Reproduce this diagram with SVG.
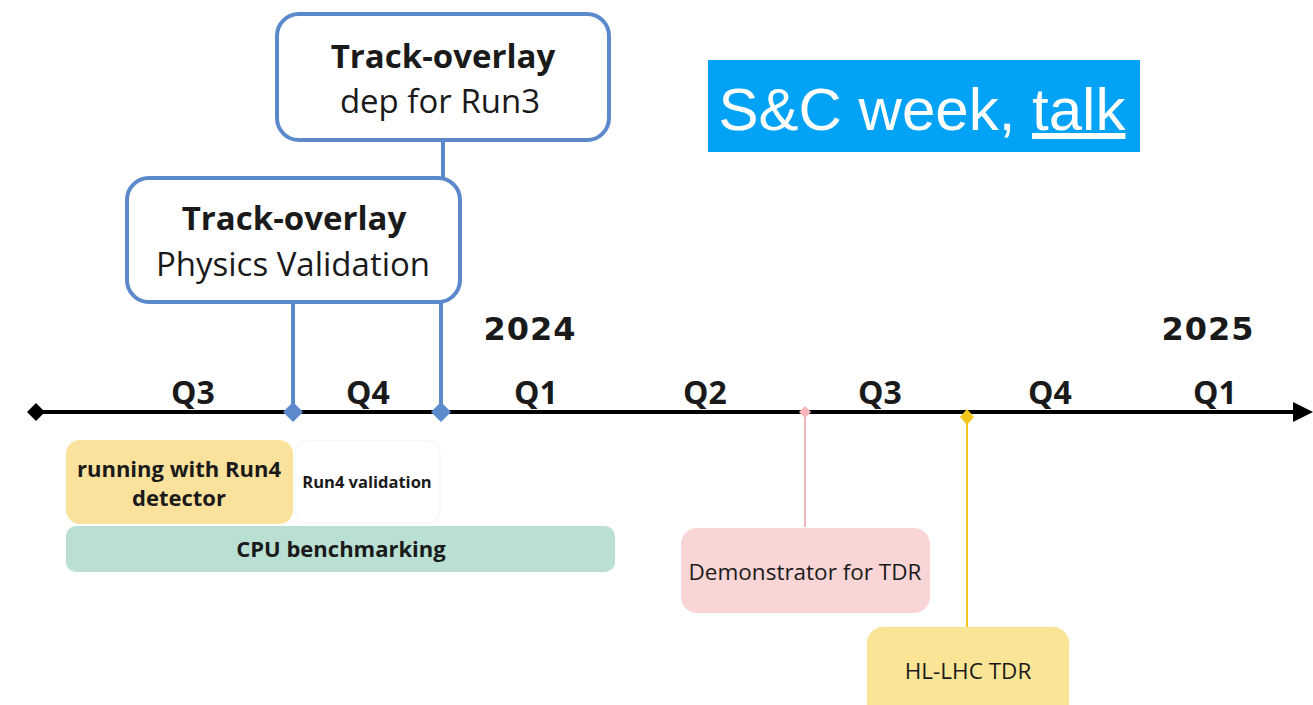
<svg xmlns="http://www.w3.org/2000/svg" width="1313" height="705" viewBox="0 0 1313 705">
  <defs>
    <style>
      .ttl { font-family: "Open Sans", "Noto Sans", sans-serif; font-weight: 700; fill: #1a1a1a; text-anchor: middle; }
      .sub { font-family: "Open Sans", "Noto Sans", sans-serif; font-weight: 400; fill: #1a1a1a; text-anchor: middle; }
      .q { font-family: "Open Sans", "Noto Sans", sans-serif; font-weight: 700; font-size: 32px; fill: #1a1a1a; text-anchor: middle; }
      .yr { font-family: "DejaVu Sans", sans-serif; font-weight: 700; font-size: 32px; letter-spacing: 1px; fill: #1a1a1a; text-anchor: middle; }
      .mbox { fill: #ffffff; stroke: #5c88cc; stroke-width: 4; }
      .link { stroke: #5c88cc; stroke-width: 4; fill: none; }
    </style>
  </defs>

  <rect width="1313" height="705" fill="#ffffff"/>

  <!-- connectors -->
  <g id="connectors">
    <line class="link" x1="443" y1="140" x2="443" y2="178"/>
    <line class="link" x1="293" y1="302" x2="293" y2="412"/>
    <line class="link" x1="441" y1="302" x2="441" y2="412"/>
    <line x1="805" y1="412" x2="805" y2="527" stroke="#f5b5b9" stroke-width="2"/>
    <line x1="967" y1="417" x2="967" y2="627" stroke="#f4c61c" stroke-width="2"/>
  </g>

  <!-- time axis -->
  <g id="axis">
    <line x1="36" y1="412" x2="1300" y2="412" stroke="#000" stroke-width="4"/>
    <path d="M1293,402 L1313,412 L1293,422 Z" fill="#000"/>
    <path d="M36,403 L45,412 L36,421 L27,412 Z" fill="#000"/>
    <path d="M293,402 L303,412 L293,422 L283,412 Z" fill="#5c88cc"/>
    <path d="M441,402 L451,412 L441,422 L431,412 Z" fill="#5c88cc"/>
    <path d="M805,406 L811,412 L805,418 L799,412 Z" fill="#f5b5b9"/>
    <path d="M967,409 L974,417 L967,425 L960,417 Z" fill="#f4c61c"/>
    <text class="q" x="193" y="404">Q3</text>
    <text class="q" x="368" y="404">Q4</text>
    <text class="q" x="536" y="404">Q1</text>
    <text class="q" x="705" y="404">Q2</text>
    <text class="q" x="880" y="404">Q3</text>
    <text class="q" x="1050" y="404">Q4</text>
    <text class="q" x="1215" y="404">Q1</text>
    <text class="yr" x="530" y="340">2024</text>
    <text class="yr" x="1208" y="340">2025</text>
  </g>

  <g id="overlay-run3">
    <rect class="mbox" x="277" y="14" width="332" height="126" rx="22"/>
    <text class="ttl" x="443" y="68" font-size="33">Track-overlay</text>
    <text class="sub" x="440" y="113" font-size="33">dep for Run3</text>
  </g>

  <g id="overlay-physics">
    <rect class="mbox" x="127" y="178" width="333" height="124" rx="22"/>
    <text class="ttl" x="294" y="230" font-size="33">Track-overlay</text>
    <text class="sub" x="293" y="276" font-size="33">Physics Validation</text>
  </g>

  <g id="talk-label">
    <rect x="708" y="60" width="432" height="92" fill="#02a3f7"/>
    <text x="922" y="130" font-family="Liberation Sans, Arial, sans-serif" font-size="60" fill="#ffffff" text-anchor="middle">S&amp;C week, <tspan text-decoration="underline">talk</tspan></text>
  </g>

  <g id="run4-detector">
    <rect x="66" y="440" width="227" height="84" rx="14" fill="#fae29c"/>
    <text class="ttl" x="179" y="477" font-size="22">running with Run4</text>
    <text class="ttl" x="179" y="506" font-size="22">detector</text>
  </g>

  <g id="run4-validation">
    <rect x="295" y="441" width="145" height="82" rx="12" fill="#ffffff" stroke="#f3f3f3" stroke-width="1"/>
    <text class="ttl" x="367" y="488" font-size="16.5">Run4 validation</text>
  </g>

  <g id="cpu-benchmarking">
    <rect x="66" y="526" width="549" height="46" rx="10" fill="#b9e0d3"/>
    <text class="ttl" x="341" y="557" font-size="22">CPU benchmarking</text>
  </g>

  <g id="demonstrator">
    <rect x="681" y="528" width="249" height="85" rx="16" fill="#f9d5d6"/>
    <text class="sub" x="805" y="580" font-size="22.5">Demonstrator for TDR</text>
  </g>

  <g id="hl-lhc-tdr">
    <rect x="867" y="627" width="202" height="95" rx="16" fill="#fae597"/>
    <text class="sub" x="968" y="679" font-size="22.5">HL-LHC TDR</text>
  </g>
</svg>
